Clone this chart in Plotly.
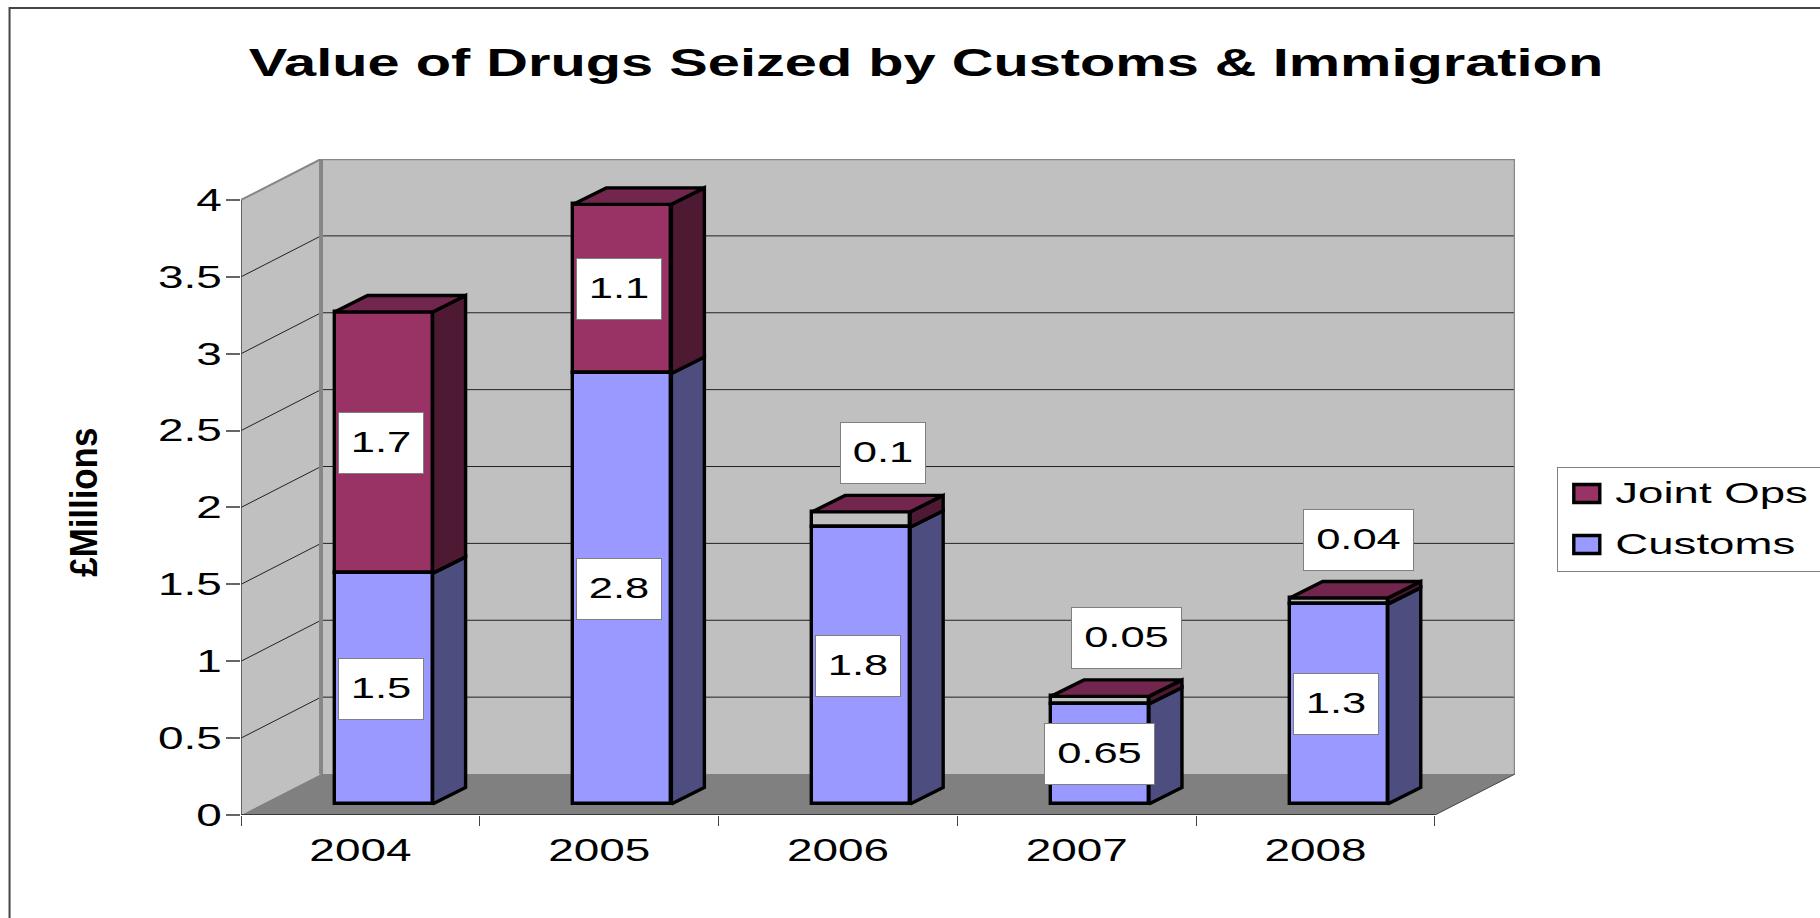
import plotly.graph_objects as go

# ---- data ----
years = ["2004", "2005", "2006", "2007", "2008"]
customs = [1.5, 2.8, 1.8, 0.65, 1.3]
joint_ops = [1.7, 1.1, 0.1, 0.05, 0.04]
customs_labels = ["1.5", "2.8", "1.8", "0.65", "1.3"]
joint_labels = ["1.7", "1.1", "0.1", "0.05", "0.04"]
y_ticks = [0, 0.5, 1, 1.5, 2, 2.5, 3, 3.5, 4]
y_tick_text = ["0", "0.5", "1", "1.5", "2", "2.5", "3", "3.5", "4"]

# ---- page geometry (pixels) ----
W, H = 1820, 918
PX_L, PX_R, PX_T, PX_B = 240.5, 1514.7, 159, 815
CAT_PX = (1434 - 240.5) / 5
UNIT_PX = (815 - 199.5) / 4
DEPTH_X = 80 / CAT_PX      # wall depth, category units
DEPTH_Y = 41 / UNIT_PX     # wall depth, value units
BAR_W = 98 / CAT_PX
BAR_OFF = (334 - 240.5) / CAT_PX - 0.5   # bar left edge, relative to category centre
BAR_BASE = 11 / UNIT_PX
BAR_DX = 33 / CAT_PX
BAR_DY = 16.5 / UNIT_PX

X_MIN, X_MAX = -0.5, len(years) - 0.5
Y_MAX = max(y_ticks)

C_WALL, C_FLOOR, C_EDGE = "#C0C0C0", "#808080", "#868686"
C_CUST, C_CUST_SIDE = "#9999FF", "#4D4D80"
C_JOINT, C_JOINT_SIDE, C_JOINT_TOP = "#993366", "#4D1933", "#73264D"
TEXT_FONT = "Liberation Sans"
THIN_SEGMENT = 0.5   # thinner Joint Ops segments show the wall colour on the front


def px_x(p):
    return (p - PX_L) / (PX_R - PX_L)


def px_y(p):
    return (PX_B - p) / (PX_B - PX_T)


def poly(xs, ys):
    return "M" + "L".join(f"{a},{b}" for a, b in zip(xs, ys)) + "Z"


shapes = []
# walls and floor
shapes.append(dict(type="path", layer="below", line=dict(color=C_WALL, width=0), fillcolor=C_WALL,
                   path=poly([X_MIN + DEPTH_X, X_MAX + DEPTH_X, X_MAX + DEPTH_X, X_MIN + DEPTH_X],
                             [DEPTH_Y, DEPTH_Y, Y_MAX + DEPTH_Y, Y_MAX + DEPTH_Y])))
shapes.append(dict(type="path", layer="below", line=dict(color=C_WALL, width=0), fillcolor=C_WALL,
                   path=poly([X_MIN, X_MIN + DEPTH_X, X_MIN + DEPTH_X, X_MIN],
                             [0, DEPTH_Y, Y_MAX + DEPTH_Y, Y_MAX])))
shapes.append(dict(type="path", layer="below", line=dict(color=C_FLOOR, width=0), fillcolor=C_FLOOR,
                   path=poly([X_MIN, X_MAX, X_MAX + DEPTH_X, X_MIN + DEPTH_X], [0, 0, DEPTH_Y, DEPTH_Y])))


def seg(x0, y0, x1, y1, color, width):
    shapes.append(dict(type="line", layer="below", x0=x0, y0=y0, x1=x1, y1=y1,
                       line=dict(color=color, width=width)))


# gridlines
for v in y_ticks[1:-1]:
    seg(X_MIN, v, X_MIN + DEPTH_X, v + DEPTH_Y, "#222222", 1)
    seg(X_MIN + DEPTH_X, v + DEPTH_Y, X_MAX + DEPTH_X, v + DEPTH_Y, "#222222", 1)
# wall frame
seg(X_MIN + DEPTH_X, DEPTH_Y, X_MIN + DEPTH_X, Y_MAX + DEPTH_Y, C_EDGE, 4)
seg(X_MIN + DEPTH_X, Y_MAX + DEPTH_Y, X_MAX + DEPTH_X, Y_MAX + DEPTH_Y, C_EDGE, 2.5)
seg(X_MIN, Y_MAX, X_MIN + DEPTH_X, Y_MAX + DEPTH_Y, C_EDGE, 2)
seg(X_MAX + DEPTH_X, DEPTH_Y, X_MAX + DEPTH_X, Y_MAX + DEPTH_Y, C_EDGE, 2.5)
seg(X_MAX, 0, X_MAX + DEPTH_X, DEPTH_Y, "#444444", 1)
# front axes
seg(X_MIN, 0, X_MIN, Y_MAX, "#444444", 1.5)
seg(X_MIN, 0, X_MAX, 0, "#222222", 1.5)

# outer chart frame, running off the page on the right and at the bottom
shapes.append(dict(type="rect", layer="below", xref="paper", yref="paper",
                   x0=px_x(9), x1=px_x(W + 20), y0=px_y(H + 20), y1=px_y(8),
                   line=dict(color="#444444", width=2), fillcolor="rgba(0,0,0,0)"))

fig = go.Figure()
positions = list(range(len(years)))
bottoms = [BAR_BASE] * len(years)
joint_bottoms = [BAR_BASE + c for c in customs]
joint_fronts = [C_JOINT if j >= THIN_SEGMENT else C_WALL for j in joint_ops]

fig.add_trace(go.Bar(name="Joint Ops", x=positions, y=joint_ops, base=joint_bottoms, width=BAR_W, offset=BAR_OFF,
                     legendgroup="joint",
                     marker=dict(color=joint_fronts, line=dict(color="black", width=3.4))))
fig.add_trace(go.Bar(name="Customs", x=positions, y=customs, base=bottoms, width=BAR_W, offset=BAR_OFF,
                     legendgroup="customs",
                     marker=dict(color=C_CUST, line=dict(color="black", width=3.4))))


def face(xs, ys, color):
    fig.add_trace(go.Scatter(x=xs, y=ys, mode="lines", fill="toself", fillcolor=color,
                             line=dict(color="black", width=3.4), showlegend=False, hoverinfo="skip"))


for i, (c, j) in enumerate(zip(customs, joint_ops)):
    xr = i + BAR_OFF + BAR_W
    xl = i + BAR_OFF
    b0, b1, b2 = BAR_BASE, BAR_BASE + c, BAR_BASE + c + j
    face([xr, xr + BAR_DX, xr + BAR_DX, xr, xr],
         [b0, b0 + BAR_DY, b1 + BAR_DY, b1, b0], C_CUST_SIDE)
    face([xr, xr + BAR_DX, xr + BAR_DX, xr, xr],
         [b1, b1 + BAR_DY, b2 + BAR_DY, b2, b1], C_JOINT_SIDE)
    face([xl, xr, xr + BAR_DX, xl + BAR_DX, xl],
         [b2, b2, b2 + BAR_DY, b2 + BAR_DY, b2], C_JOINT_TOP)

# data labels; small segments get their label lifted clear of the bar
LIFT_X = [0, 0, 22, 27, 20]
LIFT_Y = [0, 0, 67, 62, 61]
annotations = []


def label(i, mid, text, dx, dy):
    annotations.append(dict(x=i + BAR_OFF + BAR_W / 2, y=mid, text=text, showarrow=False,
                            xshift=dx, yshift=dy, width=84 if len(text) < 4 else 109, height=60,
                            bgcolor="white", bordercolor="#808080", borderwidth=1, borderpad=0,
                            font=dict(family=TEXT_FONT, size=30, color="black")))


for i, c in enumerate(customs):
    label(i, BAR_BASE + c / 2, customs_labels[i], -3 if len(customs_labels[i]) < 4 else 0, 0)
for i, (c, j) in enumerate(zip(customs, joint_ops)):
    small = LIFT_Y[i] > 0
    label(i, BAR_BASE + c + j / 2, joint_labels[i], LIFT_X[i] if small else -3, LIFT_Y[i])

annotations.append(dict(xref="paper", yref="paper", x=px_x(83), y=px_y(502), text="£Millions",
                        textangle=-90, showarrow=False, xanchor="center", yanchor="middle",
                        font=dict(family=TEXT_FONT, size=38, color="black", weight="bold")))

fig.update_layout(
    width=W, height=H, autosize=False,
    margin=dict(l=PX_L, r=W - PX_R, t=PX_T, b=H - PX_B, pad=0, autoexpand=False),
    paper_bgcolor="white", plot_bgcolor="white",
    barmode="overlay", bargap=0,
    title=dict(text="Value of Drugs Seized by Customs & Immigration",
               x=926 / W, xanchor="center", y=1 - 63 / H, yanchor="middle",
               font=dict(family=TEXT_FONT, size=38, color="black", weight="bold")),
    xaxis=dict(range=[X_MIN, X_MAX + DEPTH_X], tickmode="array", tickvals=positions, ticktext=years,
               ticks="", showgrid=False, zeroline=False, showline=False, ticklabelstandoff=14,
               tickfont=dict(family=TEXT_FONT, size=31, color="black"),
               minor=dict(tickmode="array", tickvals=[p - 0.5 for p in positions] + [X_MAX],
                          ticks="outside", ticklen=10, tickwidth=1, tickcolor="#444444", showgrid=False)),
    yaxis=dict(range=[0, Y_MAX + DEPTH_Y], tickmode="array", tickvals=y_ticks, ticktext=y_tick_text,
               ticks="outside", ticklen=14, tickwidth=1.5, tickcolor="#666666", showgrid=False,
               zeroline=False, showline=False, ticklabelstandoff=-2,
               tickfont=dict(family=TEXT_FONT, size=31, color="black")),
    legend=dict(x=px_x(1557), y=px_y(466.5), xanchor="left", yanchor="top",
                traceorder="grouped", tracegroupgap=9, itemwidth=47,
                bgcolor="white", bordercolor="#808080", borderwidth=1,
                font=dict(family=TEXT_FONT, size=30, color="black")),
    shapes=shapes, annotations=annotations,
)

# The reference picture is stretched sideways: widen the real text to match, and
# use the whole browser page for the figure.
POST = """
document.body.style.margin = '0';
var gd = document.getElementById('{plot_id}');
function widen() {
  var rules = [['.gtitle', 1.52], ['.xtick text', 1.48], ['.ytick text', 1.48],
               ['.annotation-text', 1.45], ['.legendtext', 1.52]];
  rules.forEach(function (r) {
    gd.querySelectorAll(r[0]).forEach(function (t) {
      if (t.getAttribute('textLength')) return;
      var n = t.getComputedTextLength();
      var isAxisTitle = t.textContent.indexOf('Millions') >= 0;
      t.setAttribute('textLength', isAxisTitle ? 149 : n * r[1]);
      t.setAttribute('lengthAdjust', 'spacingAndGlyphs');
      if ((r[0] === '.annotation-text' && !isAxisTitle) || r[0] === '.legendtext') t.setAttribute('dy', '-2');
    });
  });
  gd.querySelectorAll('.legend .legendpoints path').forEach(function (p) {
    p.setAttribute('d', 'M13,9H-13V-9H13Z');
  });
  gd.querySelectorAll('.legend .bg').forEach(function (b) { b.setAttribute('width', 400); });
  document.querySelectorAll('clipPath[id^="legend"] rect').forEach(function (b) {
    b.setAttribute('width', 400);
  });
}
widen();
gd.on('plotly_afterplot', widen);
"""

fig.write_html("out.html", config={"displayModeBar": False}, post_script=POST)
